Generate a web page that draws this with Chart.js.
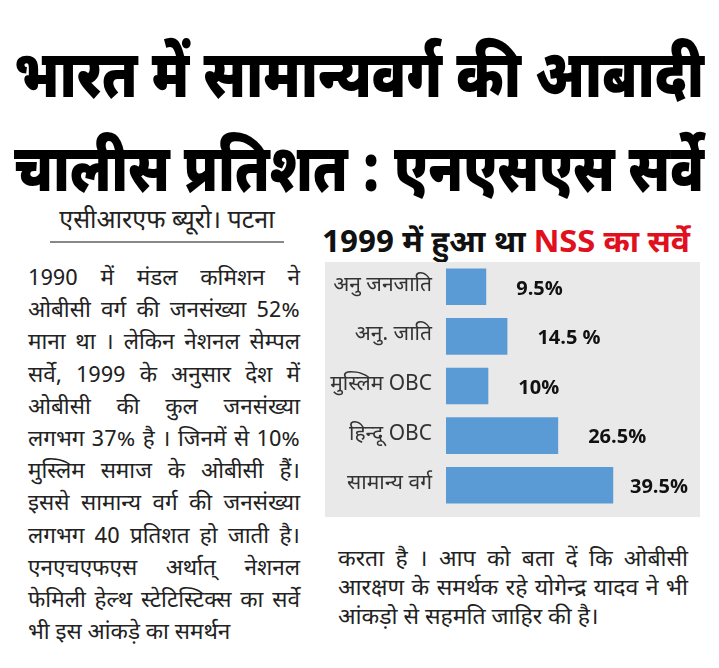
<!DOCTYPE html>
<html>
<head>
<meta charset="utf-8">
<script src="https://cdn.jsdelivr.net/npm/chart.js@4"></script>
<style>
  html, body { margin:0; padding:0; background:#fff; }
  body { width:719px; height:668px; position:relative; overflow:hidden;
         font-family: "Noto Sans Devanagari", "Lohit Devanagari", "Noto Sans", sans-serif; color:#111; }
  .head { position:absolute; left:14px; white-space:nowrap; font-weight:900; font-size:66px; line-height:0.9; color:#000; transform-origin:0 50%; }
  #h1 { top:52px; }
  #h2 { top:146px; }
  #byline { position:absolute; left:50px; top:207px; width:234px; text-align:center; font-size:25px; line-height:31px; color:#222; border-bottom:2px solid #888; padding-bottom:3px; white-space:nowrap; }
  .col { position:absolute; color:#222; }
  .col div { white-space:nowrap; transform-origin:0 50%; }
  .col div.j { text-align:justify; text-align-last:justify; }
  #left { left:28px; top:264px; width:272px; font-size:22.5px; }
  #left div { height:32.2px; line-height:32px; }
  #right { left:338px; top:546px; width:350px; font-size:23px; }
  #right div { height:29px; line-height:29px; }
  #ctitle { position:absolute; left:322px; top:227px; white-space:nowrap; font-weight:700; font-size:30px; line-height:36px; color:#111; transform-origin:0 50%; }
  #ctitle .red { color:#e0101e; }
  #box { position:absolute; left:325px; top:262px; width:375px; height:255px; background:#e9e9e9; }
</style>
</head>
<body>
<div id="h1" class="head" data-w="690">भारत में सामान्यवर्ग की आबादी</div>
<div id="h2" class="head" data-w="690">चालीस प्रतिशत : एनएसएस सर्वे</div>
<div id="byline">एसीआरएफ ब्यूरो। पटना</div>
<div id="left" class="col">
  <div>1990 में मंडल कमिशन ने</div>
  <div>ओबीसी वर्ग की जनसंख्या 52%</div>
  <div>माना था । लेकिन नेशनल सेम्पल</div>
  <div>सर्वे, 1999 के अनुसार देश में</div>
  <div>ओबीसी की कुल जनसंख्या</div>
  <div>लगभग 37% है । जिनमें से 10%</div>
  <div>मुस्लिम समाज के ओबीसी हैं।</div>
  <div>इससे सामान्य वर्ग की जनसंख्या</div>
  <div>लगभग 40 प्रतिशत हो जाती है।</div>
  <div>एनएचएफएस अर्थात् नेशनल</div>
  <div>फेमिली हेल्थ स्टेटिस्टिक्स का सर्वे</div>
  <div class="last">भी इस आंकड़े का समर्थन</div>
</div>
<div id="ctitle" data-w="368">1999 में हुआ था <span class="red">NSS का सर्वे</span></div>
<div id="box"><canvas id="c" width="375" height="255"></canvas></div>
<div id="right" class="col">
  <div>करता है । आप को बता दें कि ओबीसी</div>
  <div>आरक्षण के समर्थक रहे योगेन्द्र यादव ने भी</div>
  <div class="last">आंकड़ो से सहमति जाहिर की है।</div>
</div>
<script>
// fit headline widths
document.querySelectorAll('[data-w]').forEach(function(el){
  var target = parseFloat(el.getAttribute('data-w'));
  var w = el.getBoundingClientRect().width;
  if (w > 0) el.style.transform = 'scaleX(' + (target / w) + ')';
});
// justify column lines; squeeze lines that are naturally too wide
document.querySelectorAll('.col').forEach(function(col){
  var colW = col.getBoundingClientRect().width;
  col.querySelectorAll('div').forEach(function(line){
    var r = document.createRange();
    r.selectNodeContents(line);
    var tw = r.getBoundingClientRect().width;
    if (tw > colW) {
      line.style.width = tw + 'px';
      line.style.transform = 'scaleX(' + (colW / tw) + ')';
    }
    if (!line.classList.contains('last')) line.classList.add('j');
  });
});

const categories = ['अनु जनजाति', 'अनु. जाति', 'मुस्लिम OBC', 'हिन्दू OBC', 'सामान्य वर्ग'];
const shares = [9.5, 14.5, 10, 26.5, 39.5];
const valueLabels = ['9.5%', '14.5 %', '10%', '26.5%', '39.5%'];

const valueLabelPlugin = {
  id: 'valueLabels',
  afterDatasetsDraw(chart) {
    const ctx = chart.ctx;
    const meta = chart.getDatasetMeta(0);
    const right = chart.chartArea.right - 12;
    ctx.save();
    ctx.font = 'bold 20px "Open Sans", "Noto Sans", sans-serif';
    ctx.fillStyle = '#111';
    ctx.textBaseline = 'middle';
    ctx.textAlign = 'left';
    meta.data.forEach(function(bar, i){
      const w = ctx.measureText(valueLabels[i]).width;
      const x = Math.min(bar.x + 30, right - w);
      ctx.fillText(valueLabels[i], x, bar.y + 2);
    });
    ctx.restore();
  }
};

new Chart(document.getElementById('c'), {
  type: 'bar',
  data: {
    labels: categories,
    datasets: [{
      data: shares,
      backgroundColor: '#5b9bd5',
      borderWidth: 0,
      barPercentage: 0.82,
      categoryPercentage: 0.9
    }]
  },
  options: {
    indexAxis: 'y',
    responsive: false,
    animation: false,
    devicePixelRatio: 1,
    layout: { padding: { top: 0, bottom: 7, left: 0, right: 0 } },
    plugins: { legend: { display: false }, tooltip: { enabled: false }, title: { display: false } },
    scales: {
      x: { display: false, min: 0, max: 60 },
      y: {
        grid: { display: false },
        border: { display: false },
        ticks: { color: '#333', font: { size: 21, family: '"Noto Sans Devanagari", "Noto Sans", sans-serif' }, padding: 6 },
        afterFit(scale) { scale.width = 121; scale.paddingTop = 0; scale.paddingBottom = 0; }
      }
    }
  },
  plugins: [valueLabelPlugin]
});
</script>
</body>
</html>
